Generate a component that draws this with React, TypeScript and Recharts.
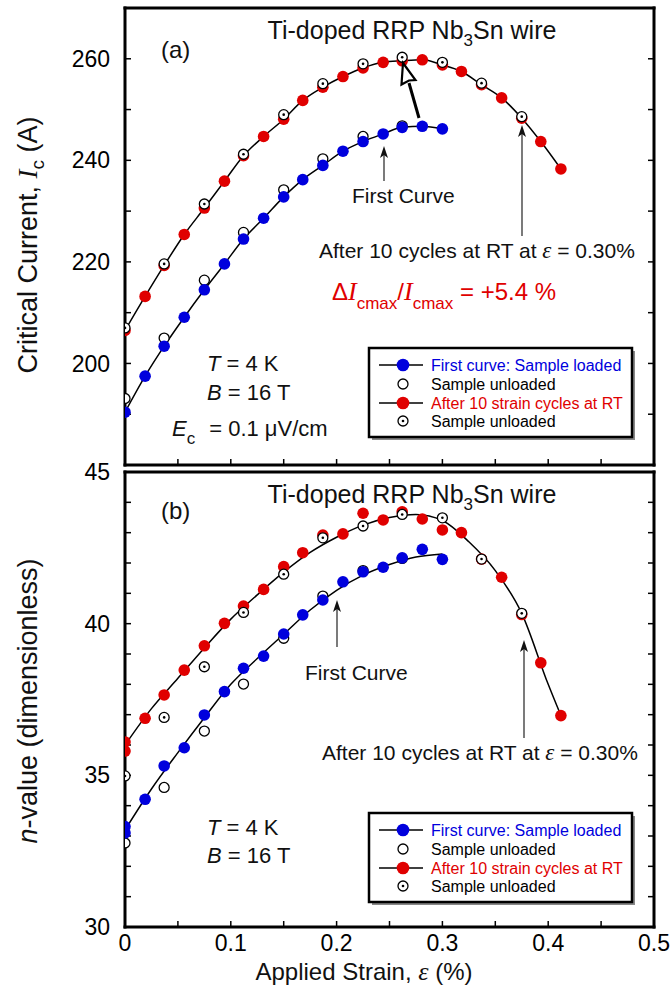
import React from 'react';
import { ComposedChart, Line, Scatter, XAxis, YAxis } from 'recharts';

// strain (%) grids
const strainLoaded = [0, 0.019, 0.037, 0.056, 0.075, 0.094, 0.112, 0.131, 0.15, 0.168, 0.187, 0.206, 0.225, 0.244, 0.262, 0.281, 0.3, 0.318, 0.337, 0.356, 0.375, 0.393, 0.412];
const strainFirst = strainLoaded.slice(0, 17);
const strainUnloadRed = [0, 0.037, 0.075, 0.112, 0.15, 0.187, 0.225, 0.262, 0.3, 0.337, 0.375];
const strainUnloadBlue = [0, 0.037, 0.075, 0.112, 0.15, 0.187, 0.225, 0.262];
const strainLoadedN = [0, ...strainLoaded];
const strainFirstN = [0, ...strainFirst];

// (a) critical current, A
const icRedLoaded = [206.5, 213.2, 219.3, 225.4, 230.6, 235.9, 240.9, 244.7, 248.1, 251.8, 254.4, 256.5, 258.2, 259.3, 259.6, 259.8, 258.8, 257.5, 254.9, 252.3, 248.3, 243.7, 238.3];
const icRedUnloaded = [207.0, 219.6, 231.4, 241.2, 249.0, 255.1, 259.0, 260.3, 259.3, 255.2, 248.6];
const icBlueLoaded = [190.4, 197.5, 203.4, 209.1, 214.5, 219.6, 224.5, 228.6, 232.8, 236.2, 239.0, 241.8, 243.7, 245.2, 246.5, 246.7, 246.2];
const icBlueUnloaded = [193.1, 205.0, 216.4, 225.8, 234.2, 240.3, 244.7, 246.8];

// (b) n-value
const nRedLoaded = [36.1, 35.8, 36.88, 37.65, 38.47, 39.27, 40.01, 40.58, 41.13, 41.88, 42.34, 42.92, 42.96, 43.64, 43.42, 43.69, 43.45, 43.09, 43.0, 42.13, 41.53, 40.3, 38.71, 36.97];
const nRedUnloaded = [34.98, 36.91, 38.58, 40.37, 41.63, 42.83, 43.22, 43.6, 43.49, 42.13, 40.34];
const nBlueLoaded = [33.31, 33.1, 34.21, 35.31, 35.91, 36.99, 37.76, 38.53, 38.93, 39.66, 40.29, 40.78, 41.38, 41.71, 41.86, 42.17, 42.45, 42.12];
const nBlueUnloaded = [32.77, 34.6, 36.46, 38.01, 39.52, 40.91, 41.75, 42.15];

// fitted curves in (b)
const fitStrainRed = [0, 0.025, 0.05, 0.075, 0.1, 0.125, 0.15, 0.175, 0.2, 0.225, 0.25, 0.275, 0.3, 0.325, 0.35, 0.375, 0.4, 0.412];
const nRedFit = [36.0, 37.2, 38.2, 39.2, 40.15, 40.95, 41.7, 42.35, 42.85, 43.25, 43.5, 43.6, 43.4, 42.7, 41.75, 40.34, 38.0, 36.97];
const fitStrainBlue = [0, 0.025, 0.05, 0.075, 0.1, 0.125, 0.15, 0.175, 0.2, 0.225, 0.25, 0.275, 0.3];
const nBlueFit = [33.2, 34.55, 35.75, 36.9, 38.0, 38.85, 39.65, 40.45, 41.1, 41.6, 41.95, 42.2, 42.3];

// ticks
const xTicks = [0, 0.05, 0.1, 0.15, 0.2, 0.25, 0.3, 0.35, 0.4, 0.45, 0.5];
const xLabels = [0, 0.1, 0.2, 0.3, 0.4, 0.5];
const icTicks = [180, 190, 200, 210, 220, 230, 240, 250, 260, 270];
const icLabels = [200, 220, 240, 260];
const nTicks = [30, 31, 32, 33, 34, 35, 36, 37, 38, 39, 40, 41, 42, 43, 44, 45];
const nLabels = [30, 35, 40, 45];

const zip = (xs: number[], ys: number[]) => xs.map((s, i) => ({ s, v: ys[i] }));

const BLUE = '#0000dd';
const RED = '#e00000';
const FONT = '"Liberation Sans", Arial, Helvetica, sans-serif';
const SERIF = '"Liberation Serif", "Times New Roman", serif';

const axisLine = { stroke: '#000', strokeWidth: 3, strokeLinecap: 'square' as const };
const tickLine = { stroke: '#000', strokeWidth: 1.5 };
const blank = () => '';

const RedDot = (p: any) => <circle cx={p.cx} cy={p.cy} r={5.8} fill={RED} />;
const BlueDot = (p: any) => <circle cx={p.cx} cy={p.cy} r={5.8} fill={BLUE} />;
const OpenDot = (p: any) => <circle cx={p.cx} cy={p.cy} r={5} fill="#fff" stroke="#000" strokeWidth={1.3} />;
const DottedDot = (p: any) => (
  <g>
    <circle cx={p.cx} cy={p.cy} r={5} fill="#fff" stroke="#000" strokeWidth={1.3} />
    <circle cx={p.cx} cy={p.cy} r={1.3} fill="#000" />
  </g>
);

function Frame({ yDomain, yTicks, yLabels, topH, bottomH, showX }: any) {
  return [
    <XAxis key="xb" xAxisId="x" dataKey="s" type="number" domain={[0, 0.5]} ticks={xTicks} interval={0}
      height={bottomH} tickSize={-6} tickMargin={14} allowDataOverflow axisLine={axisLine} tickLine={tickLine}
      tick={{ fill: '#000', fontSize: 23 }}
      tickFormatter={showX ? (v: number) => (xLabels.includes(v) ? String(v) : '') : blank} />,
    <XAxis key="xt" xAxisId="xt" orientation="top" type="number" domain={[0, 0.5]} ticks={xTicks} interval={0}
      height={topH} tickSize={-6} allowDataOverflow axisLine={axisLine} tickLine={tickLine} tickFormatter={blank} />,
    <YAxis key="yl" yAxisId="y" dataKey="v" type="number" domain={yDomain} ticks={yTicks} interval={0}
      width={125} tickSize={-6} tickMargin={21} allowDataOverflow axisLine={axisLine} tickLine={tickLine}
      tick={{ fill: '#000', fontSize: 23 }}
      tickFormatter={(v: number) => (yLabels.includes(v) ? String(v) : '')} />,
    <YAxis key="yr" yAxisId="yr" orientation="right" type="number" domain={yDomain} ticks={yTicks} interval={0}
      width={17} tickSize={-6} allowDataOverflow axisLine={axisLine} tickLine={tickLine} tickFormatter={blank} />,
  ];
}

const fitLine = (data: any[], key: string) => (
  <Line key={key} xAxisId="x" yAxisId="y" data={data} dataKey="v" type="monotone" stroke="#000" strokeWidth={1.5}
    dot={false} activeDot={false} isAnimationActive={false} />
);
const points = (data: any[], shape: any, key: string) => (
  <Scatter key={key} xAxisId="x" yAxisId="y" data={data} dataKey="v" shape={shape} isAnimationActive={false} />
);

function LegendBox({ top }: { top: number }) {
  const rows = [
    { label: 'First curve: Sample loaded', color: BLUE, mark: 'blue' },
    { label: 'Sample unloaded', color: '#000', mark: 'open' },
    { label: 'After 10 strain cycles at RT', color: RED, mark: 'red' },
    { label: 'Sample unloaded', color: '#000', mark: 'dotted' },
  ];
  const offs = [17, 36, 55, 73];
  return (
    <g>
      <rect x={372} y={top + 3} width={263} height={89} fill="#888" />
      <rect x={369} y={top} width={263} height={89} fill="#fff" stroke="#000" strokeWidth={2.5} />
      {rows.map((r, i) => {
        const y = top + offs[i];
        return (
          <g key={i}>
            {(r.mark === 'blue' || r.mark === 'red') && (
              <>
                <line x1={379} x2={423} y1={y} y2={y} stroke="#000" strokeWidth={1.5} />
                <circle cx={403} cy={y} r={6.3} fill={r.mark === 'blue' ? BLUE : RED} />
              </>
            )}
            {r.mark === 'open' && <circle cx={403} cy={y} r={5} fill="#fff" stroke="#000" strokeWidth={1.3} />}
            {r.mark === 'dotted' && (
              <>
                <circle cx={403} cy={y} r={5} fill="#fff" stroke="#000" strokeWidth={1.3} />
                <circle cx={403} cy={y} r={1.3} fill="#000" />
              </>
            )}
            <text x={431} y={y + 5.6} fontSize={16} fill={r.color}>{r.label}</text>
          </g>
        );
      })}
    </g>
  );
}

function VArrow({ x, tip, tail }: { x: number; tip: number; tail: number }) {
  return (
    <g>
      <line x1={x} x2={x} y1={tip + 6} y2={tail} stroke="#333" strokeWidth={1.3} />
      <polygon points={`${x},${tip} ${x - 4},${tip + 12} ${x},${tip + 9} ${x + 4},${tip + 12}`} fill="#111" />
    </g>
  );
}

function Title({ y }: { y: number }) {
  return (
    <text x={412} y={y} fontSize={25} textAnchor="middle" fill="#111">
      Ti-doped RRP Nb<tspan fontSize={17} dy={7}>3</tspan><tspan dy={-7}>Sn wire</tspan>
    </text>
  );
}

function AfterText({ x, y }: { x: number; y: number }) {
  return (
    <text x={x} y={y} fontSize={21} fill="#111">
      After 10 cycles at RT at <tspan fontFamily={SERIF} fontStyle="italic" fontSize={23}>ε</tspan> = 0.30%
    </text>
  );
}

export default function App() {
  return (
    <div style={{ position: 'relative', width: 671, height: 989, fontFamily: FONT }}>
      <style>{'body{margin:0}'}</style>
      <div style={{ position: 'absolute', left: 0, top: 0 }}>
        <ComposedChart width={671} height={470} margin={{ top: 0, right: 0, bottom: 0, left: 0 }}>
          {Frame({ yDomain: [180, 270], yTicks: icTicks, yLabels: icLabels, topH: 8, bottomH: 5, showX: false })}
          {fitLine(zip(strainFirst, icBlueLoaded), 'fb')}
          {fitLine(zip(strainLoaded, icRedLoaded), 'fr')}
          {points(zip(strainUnloadBlue, icBlueUnloaded), OpenDot, 'bo')}
          {points(zip(strainFirst, icBlueLoaded), BlueDot, 'bl')}
          {points(zip(strainLoaded, icRedLoaded), RedDot, 'rl')}
          {points(zip(strainUnloadRed, icRedUnloaded), DottedDot, 'ro')}
        </ComposedChart>
      </div>
      <div style={{ position: 'absolute', left: 0, top: 440 }}>
        <ComposedChart width={671} height={549} margin={{ top: 0, right: 0, bottom: 0, left: 0 }}>
          {Frame({ yDomain: [30, 45], yTicks: nTicks, yLabels: nLabels, topH: 32, bottomH: 62, showX: true })}
          {fitLine(zip(fitStrainBlue, nBlueFit), 'fb')}
          {fitLine(zip(fitStrainRed, nRedFit), 'fr')}
          {points(zip(strainUnloadBlue, nBlueUnloaded), OpenDot, 'bo')}
          {points(zip(strainFirstN, nBlueLoaded), BlueDot, 'bl')}
          {points(zip(strainLoadedN, nRedLoaded), RedDot, 'rl')}
          {points(zip(strainUnloadRed, nRedUnloaded), DottedDot, 'ro')}
        </ComposedChart>
      </div>
      <svg width={671} height={989} style={{ position: 'absolute', left: 0, top: 0, pointerEvents: 'none' }}>
        {/* axis titles */}
        <text transform="translate(37,245) rotate(-90)" fontSize={27} textAnchor="middle" fill="#111">
          Critical Current, <tspan fontFamily={SERIF} fontStyle="italic">I</tspan>
          <tspan fontSize={19} dy={7}>c</tspan><tspan dy={-7}> (A)</tspan>
        </text>
        <text transform="translate(37,701) rotate(-90)" fontSize={27} textAnchor="middle" fill="#111">
          <tspan fontStyle="italic">n</tspan>-value (dimensionless)
        </text>
        <text x={364} y={980} fontSize={24} textAnchor="middle" fill="#111">
          Applied Strain, <tspan fontFamily={SERIF} fontStyle="italic" fontSize={26}>ε</tspan> (%)
        </text>

        {/* panel (a) */}
        <Title y={39} />
        <text x={161} y={58} fontSize={24} fill="#111">(a)</text>
        <text x={352} y={203} fontSize={21} fill="#111">First Curve</text>
        <VArrow x={384} tip={146} tail={181} />
        <AfterText x={319} y={258} />
        <VArrow x={522} tip={125} tail={236} />
        <line x1={419} y1={118} x2={409} y2={83} stroke="#000" strokeWidth={3} />
        <polygon points="403,63 415.5,80 409,80.5 401.5,84.5" fill="#fff" stroke="#000" strokeWidth={2.2} strokeLinejoin="miter" />
        <text x={332} y={300} fontSize={24} fill={RED}>
          Δ<tspan fontFamily={SERIF} fontStyle="italic" fontSize={26}>I</tspan>
          <tspan fontSize={17} dy={9}>cmax</tspan>
          <tspan dy={-9}>/</tspan><tspan fontFamily={SERIF} fontStyle="italic" fontSize={26}>I</tspan>
          <tspan fontSize={17} dy={9}>cmax</tspan>
          <tspan dy={-9}> = +5.4 %</tspan>
        </text>
        <text x={207} y={371} fontSize={22} fill="#111">
          <tspan fontStyle="italic">T</tspan> = 4 K
        </text>
        <text x={207} y={400} fontSize={22} fill="#111">
          <tspan fontStyle="italic">B</tspan> = 16 T
        </text>
        <text x={172} y={436} fontSize={22} fill="#111">
          <tspan fontStyle="italic">E</tspan><tspan fontSize={17} dy={8}>c</tspan>
          <tspan dy={-8} dx={14}>= 0.1 μV/cm</tspan>
        </text>
        <LegendBox top={348} />

        {/* panel (b) */}
        <Title y={503} />
        <text x={161} y={519} fontSize={24} fill="#111">(b)</text>
        <text x={305} y={680} fontSize={21} fill="#111">First Curve</text>
        <VArrow x={337} tip={600} tail={647} />
        <AfterText x={322} y={760} />
        <VArrow x={524} tip={640} tail={738} />
        <text x={207} y={835} fontSize={22} fill="#111">
          <tspan fontStyle="italic">T</tspan> = 4 K
        </text>
        <text x={207} y={863} fontSize={22} fill="#111">
          <tspan fontStyle="italic">B</tspan> = 16 T
        </text>
        <LegendBox top={813} />
      </svg>
    </div>
  );
}
